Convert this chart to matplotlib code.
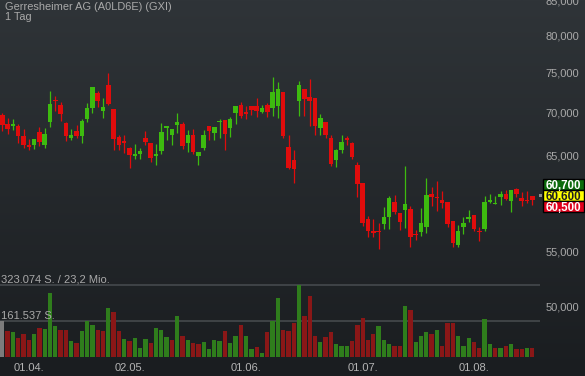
import matplotlib
matplotlib.use("Agg")
import numpy as np
import matplotlib.pyplot as plt
from matplotlib.colors import LinearSegmentedColormap
from matplotlib.patches import Rectangle
from matplotlib.ticker import FixedLocator, NullLocator, FuncFormatter
from matplotlib.transforms import blended_transform_factory, IdentityTransform

plt.rcParams['font.family'] = ['Liberation Sans', 'DejaVu Sans']

title = "Gerresheimer AG (A0LD6E) (GXI)"
interval = "1 Tag"

# daily candles, 25.03. - 16.08.
opens = [69670, 68590, 68390, 68360, 67220, 66150, 66150, 67650, 66150, 68860,
         71500, 70880, 68750, 66920, 67770, 67220, 69150, 70550, 72330, 70180,
         73380, 70390, 67100, 66570, 65840, 64870, 65090, 66920, 66370, 64900,
         65460, 68120, 67300, 68480, 68560, 66370, 67300, 64930, 65840, 68360,
         67530, 68830, 69065, 68080, 69910, 70880, 70030, 70760, 70760, 70030,
         70880, 70550, 70790, 72490, 65920, 64450, 71410, 72870, 71870, 71740,
         68160, 68830, 66950, 64480, 65610, 66980, 66370, 63900, 61940, 58200,
         56970, 56970, 57700, 58400, 59970, 58810, 59110, 59210, 56710, 56930,
         57430, 60770, 60490, 60140, 59940, 58000, 55640, 57430, 58200, 58600,
         56970, 57200, 59970, 59760, 60490, 60770, 60070, 61300, 60320, 60140,
         60560]
highs = [69910, 69350, 69150, 68560, 67960, 66800, 66900, 68200, 68080, 72620,
         71990, 71290, 68800, 67960, 68480, 69150, 71160, 73160, 72650, 71710,
         74880, 70390, 67300, 67300, 65900, 66260, 65770, 67770, 66370, 66260,
         68680, 68360, 68000, 69910, 68860, 67880, 67960, 65350, 67880, 68360,
         68240, 69190, 69065, 69430, 70760, 71210, 70720, 70760, 71710, 70880,
         71090, 74360, 73800, 72490, 67300, 65540, 73880, 72870, 74100, 71740,
         69750, 68830, 67300, 65690, 67270, 67220, 66520, 64260, 61940, 58530,
         58200, 57770, 59450, 60560, 60670, 58810, 63790, 59550, 57100, 59290,
         62530, 61540, 62150, 61120, 59940, 58000, 57570, 58370, 59110, 58600,
         57430, 60560, 60800, 60560, 61050, 61190, 61190, 61370, 61010, 61050,
         60560]
lows = [67770, 67420, 67880, 66410, 65770, 65570, 65720, 66030, 65840, 68280,
        70180, 68980, 66570, 66720, 66920, 66410, 68860, 69870, 70600, 69350,
        70880, 65570, 65570, 65200, 63530, 64530, 64530, 66110, 64200, 63900,
        65090, 66750, 66110, 67500, 65650, 65310, 65090, 63900, 65570, 66750,
        66750, 66920, 65570, 67100, 68560, 69350, 69190, 69670, 69470, 69900,
        69470, 69590, 69350, 66980, 63420, 61970, 69590, 69590, 68390, 67300,
        67300, 66920, 63820, 63640, 65200, 66110, 64600, 60430, 57500, 56390,
        56390, 55260, 57170, 57230, 58710, 57070, 57270, 55420, 56120, 56510,
        56780, 59520, 59040, 59290, 57430, 55420, 55420, 56710, 57900, 57000,
        56030, 57030, 59800, 59700, 59660, 60140, 58880, 60490, 59520, 59800,
        59630]
closes = [68480, 67970, 68630, 67220, 66150, 65890, 66830, 66520, 67420, 71000,
          71370, 69790, 67220, 67300, 67220, 68980, 70550, 73160, 71340, 70670,
          71000, 66830, 66150, 66410, 65010, 65090, 65460, 66490, 64680, 65090,
          67650, 68360, 68000, 68830, 66030, 67300, 65380, 65350, 67300, 67770,
          68240, 68950, 67420, 69190, 70760, 69550, 69830, 70270, 70150, 70510,
          70070, 72490, 72870, 67220, 63600, 63420, 73380, 71660, 71410, 68390,
          69310, 67300, 64010, 65570, 66490, 66750, 64790, 61860, 57800, 57000,
          56810, 56870, 58400, 60380, 58940, 57930, 59730, 56440, 56610, 57830,
          60670, 60420, 60380, 59800, 57730, 55860, 57000, 57800, 58400, 57200,
          56870, 59940, 60140, 59860, 60770, 60250, 61190, 60800, 60070, 60010,
          60170]
volumes = [161537, 116000, 110000, 82000, 104000, 76000, 101000, 131000, 125000, 287000,
           137000, 119000, 122000, 69000, 61000, 114000, 163000, 142000, 119000, 114000,
           220000, 204000, 116000, 78000, 72000, 85000, 40000, 81000, 61000, 131000,
           119000, 88000, 73000, 183000, 95000, 73000, 61000, 55000, 67000, 35000,
           73000, 70000, 116000, 61000, 93000, 142000, 92000, 35000, 44000, 18000,
           113000, 163000, 264000, 119000, 116000, 152000, 323074, 183000, 275000, 95000,
           64000, 88000, 110000, 58000, 49000, 49000, 69000, 142000, 175000, 76000,
           104000, 140000, 76000, 58000, 46000, 46000, 230000, 209000, 67000, 92000,
           111000, 101000, 118000, 46000, 150000, 150000, 95000, 49000, 82000, 64000,
           40000, 172000, 58000, 40000, 40000, 46000, 55000, 33000, 33000, 40000,
           40000]
# g = close above previous close, r = below, n = no previous day
volume_dirs = list("nrgrrrgrgg" "grrgrgggrr" "grrgrgggrg" "ggrgrgrrgg"
                   "ggrggrggrg" "rggrrrgrrr" "grrgggrrrr" "rgggrrgrgg"
                   "grgrrrgggr" "rggrgrgrrg" "r")

date_ticks = [5, 24, 46, 68, 89]
date_labels = ["01.04.", "02.05.", "01.06.", "01.07.", "01.08."]
price_ticks = [50000, 55000, 60000, 65000, 70000, 75000, 80000, 85000]

vol_line_top = 323074
vol_line_half = 161537
vol_caption_top = "323.074 S. / 23,2 Mio."
vol_caption_half = "161.537 S."

quote_ask = 60700
quote_last = 60600
quote_bid = 60500

UP = '#3dbb0f'
DOWN = '#e00c0c'
VOL_COLORS = {'g': '#2f7d1c', 'r': '#8a1717', 'n': '#7c7c7c'}
TEXT = '#a9a9a9'


def draw_background(fig):
    bg = fig.add_axes([0, 0, 1, 1])
    cmap = LinearSegmentedColormap.from_list('bg', ['#2f3438', '#1a1d20'])
    bg.imshow(np.linspace(0, 1, 256).reshape(-1, 1), aspect='auto', cmap=cmap,
              extent=[0, 1, 0, 1])
    bg.axis('off')
    bg.set_zorder(-10)


def draw_candles(ax):
    x = np.arange(len(closes))
    o, h, l, c = map(np.array, (opens, highs, lows, closes))
    colors = np.where(c >= o, UP, DOWN)
    ax.vlines(x, l, h, colors=colors, linewidth=0.9)
    bottom = np.minimum(o, c)
    height = np.maximum(np.abs(c - o), 60)
    ax.bar(x, height, bottom=bottom, width=0.85, color=colors, linewidth=0)


def draw_volume(vax):
    x = np.arange(len(volumes))
    colors = [VOL_COLORS[d] for d in volume_dirs]
    vax.bar(x, volumes, width=0.8, color=colors, linewidth=0)
    trans = blended_transform_factory(vax.transAxes, vax.transData)
    for level, caption in [(vol_line_top, vol_caption_top), (vol_line_half, vol_caption_half)]:
        vax.axhline(level, color='#45494d', linewidth=1.2, zorder=0)
        vax.text(0.001, level * 1.01, caption, transform=trans, ha='left', va='bottom',
                 fontsize=8, color=TEXT)
    vax.set_yticks([])


def draw_quote_boxes(fig, ax):
    trans = IdentityTransform()
    y_last = ax.transData.transform((0, quote_last))[1]
    x0 = ax.transAxes.transform((1, 0))[0]
    box_h = 11.2
    fs = 8.3
    cap = fs * 100 / 72 * 0.716
    fig.add_artist(Rectangle((x0 - 1, y_last - 1.3), 3, 2.7, transform=trans,
                             facecolor='#8c8c8c', edgecolor='none'))
    quotes = [(quote_ask, '#0b6b0b', 'white'),
              (quote_last, '#ffff00', '#202020'),
              (quote_bid, '#e0001b', 'white')]
    for k, (val, face, ink) in enumerate(quotes):
        yc = y_last + (1 - k) * box_h
        fig.add_artist(Rectangle((x0 + 3, yc - box_h / 2), 40.5, box_h, transform=trans,
                                 facecolor=face, edgecolor='black', linewidth=1, zorder=5))
    for k, (val, face, ink) in enumerate(quotes):
        yc = y_last + (1 - k) * box_h
        fig.text(x0 + 23, yc - cap / 2, f"{val:,}", transform=trans, ha='center',
                 va='baseline', fontsize=fs, fontweight='bold', color=ink, zorder=6)


W, H = 585, 376
fig = plt.figure(figsize=(W / 100, H / 100), dpi=100)
draw_background(fig)

rect = [0, 1 - 356.5 / H, 540 / W, 356.5 / H]
vax = fig.add_axes(rect)
ax = fig.add_axes(rect, sharex=vax)
for a in (ax, vax):
    a.set_facecolor('none')
    for s in a.spines.values():
        s.set_visible(False)

ax.set_yscale('log')
ax.set_ylim(45880, 85020)
ax.set_xlim(-0.434, 101.45)
vax.set_ylim(0, 1617700)

draw_candles(ax)
draw_volume(vax)

ax.yaxis.tick_right()
ax.yaxis.set_major_locator(FixedLocator(price_ticks))
ax.yaxis.set_minor_locator(NullLocator())
ax.yaxis.set_major_formatter(FuncFormatter(lambda v, _: f"{int(v):,}"))
ax.tick_params(axis='y', length=0, pad=3.8, labelsize=8, labelcolor=TEXT)

ax.set_xticks(date_ticks)
ax.set_xticklabels(date_labels)
ax.tick_params(axis='x', length=0, pad=4.5, labelsize=8, labelcolor='#b4b4b4')
vax.tick_params(axis='x', length=0, labelbottom=False)

fig.text(5 / W, 1 - 2 / H, title, ha='left', va='top', fontsize=7.9, color=TEXT)
fig.text(5 / W, 1 - 12.5 / H, interval, ha='left', va='top', fontsize=7.9, color=TEXT)

draw_quote_boxes(fig, ax)

fig.savefig('out.png', dpi=100)
